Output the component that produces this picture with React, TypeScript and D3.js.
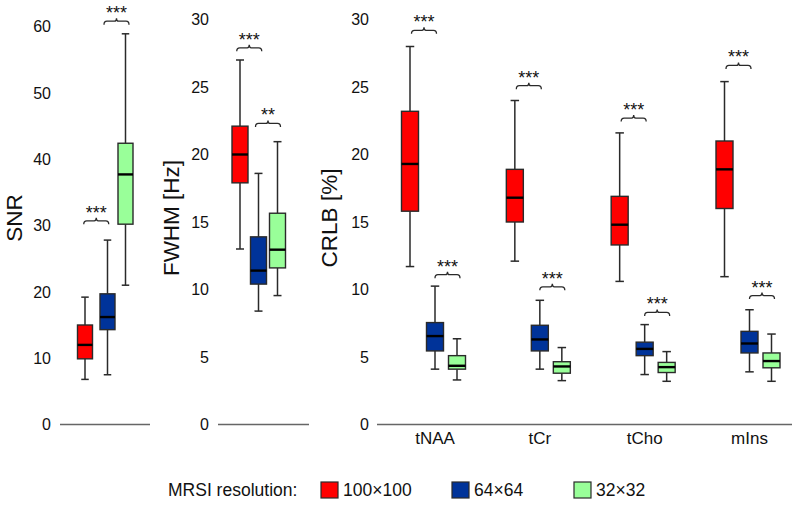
import React from 'react';
import * as d3 from 'd3';

const seriesNames = ['100×100', '64×64', '32×32'];
const seriesColors = ['#ff0000', '#003399', '#99ff99'];

// [low whisker, Q1, median, Q3, high whisker] per series
const snrStats = [
  [6.8, 9.9, 12.0, 15.0, 19.2],
  [7.5, 14.3, 16.2, 19.7, 27.8],
  [21.0, 30.2, 37.7, 42.4, 58.9],
];
const fwhmStats = [
  [13.0, 17.9, 20.0, 22.1, 27.0],
  [8.4, 10.4, 11.4, 13.9, 18.6],
  [9.55, 11.6, 12.95, 15.65, 20.95],
];
const crlbCategories = ['tNAA', 'tCr', 'tCho', 'mIns'];
const crlbNAA = [
  [11.7, 15.8, 19.3, 23.2, 28.0],
  [4.1, 5.45, 6.55, 7.55, 10.25],
  [3.3, 4.1, 4.35, 5.1, 6.35],
];
const crlbCr = [
  [12.1, 15.0, 16.8, 18.9, 24.0],
  [4.1, 5.45, 6.3, 7.35, 9.2],
  [3.25, 3.8, 4.3, 4.65, 5.7],
];
const crlbCho = [
  [10.6, 13.3, 14.8, 16.9, 21.6],
  [3.7, 5.1, 5.6, 6.1, 7.4],
  [3.2, 3.85, 4.25, 4.6, 5.4],
];
const crlbIns = [
  [10.95, 16.0, 18.9, 21.0, 25.4],
  [3.9, 5.3, 6.0, 6.9, 8.5],
  [3.2, 4.2, 4.7, 5.3, 6.7],
];
const crlbStats = [crlbNAA, crlbCr, crlbCho, crlbIns];

const snrTicks = [0, 10, 20, 30, 40, 50, 60];
const fwhmTicks = [0, 5, 10, 15, 20, 25, 30];
const crlbTicks = [0, 5, 10, 15, 20, 25, 30];

// significance brackets: [from series, to series, level, label]
const snrBrackets: [number, number, number, string][] = [
  [0, 1, 30.7, '***'],
  [1, 2, 60.8, '***'],
];
const fwhmBrackets: [number, number, number, string][] = [
  [0, 1, 27.9, '***'],
  [1, 2, 22.3, '**'],
];
// per category: [red-blue level, blue-green level]
const crlbBracketLevels = [
  [29.2, 11.1],
  [25.1, 10.2],
  [22.7, 8.3],
  [26.6, 9.55],
];
const crlbBracketLabels = ['***', '***'];

const FONT = "'Liberation Sans', Arial, Helvetica, sans-serif";
const STROKE = '#2a2a2a';

function Box({ cx, w, s, y, color }: { cx: number; w: number; s: number[]; y: d3.ScaleLinear<number, number>; color: string }) {
  const [lo, q1, med, q3, hi] = s;
  const cap = w / 2;
  return (
    <g>
      <line x1={cx} x2={cx} y1={y(hi)} y2={y(q3)} stroke={STROKE} strokeWidth={1.5} />
      <line x1={cx} x2={cx} y1={y(q1)} y2={y(lo)} stroke={STROKE} strokeWidth={1.5} />
      <line x1={cx - cap / 2} x2={cx + cap / 2} y1={y(hi)} y2={y(hi)} stroke={STROKE} strokeWidth={1.5} />
      <line x1={cx - cap / 2} x2={cx + cap / 2} y1={y(lo)} y2={y(lo)} stroke={STROKE} strokeWidth={1.5} />
      <rect x={cx - w / 2} y={y(q3)} width={w} height={y(q1) - y(q3)} fill={color} stroke={STROKE} strokeWidth={1.4} />
      <line x1={cx - w / 2} x2={cx + w / 2} y1={y(med)} y2={y(med)} stroke="#000" strokeWidth={2.4} />
    </g>
  );
}

function Bracket({ xa, xb, yy, label }: { xa: number; xb: number; yy: number; label: string }) {
  const mid = (xa + xb) / 2;
  const half = 12.5;
  const x0 = mid - half;
  const x1 = mid + half;
  const d = `M${x0},${yy + 3.5} Q${x0},${yy} ${x0 + 3},${yy} H${mid - 2} Q${mid},${yy} ${mid},${yy - 3} Q${mid},${yy} ${mid + 2},${yy} H${x1 - 3} Q${x1},${yy} ${x1},${yy + 3.5}`;
  return (
    <g>
      <path d={d} fill="none" stroke={STROKE} strokeWidth={1.3} />
      <text x={mid} y={yy - 2} textAnchor="middle" fontSize={18} fontFamily={FONT} fill="#111">
        {label}
      </text>
    </g>
  );
}

function YAxis({ y, ticks, labelX, x0, x1, title, titleX }: { y: d3.ScaleLinear<number, number>; ticks: number[]; labelX: number; x0: number; x1: number; title: string; titleX: number }) {
  const cy = 218;
  return (
    <g>
      {ticks.map((t) => (
        <text key={t} x={labelX} y={y(t)} dy="0.36em" textAnchor="end" fontSize={16} fontFamily={FONT} fill="#111">
          {t}
        </text>
      ))}
      <line x1={x0} x2={x1} y1={y(0)} y2={y(0)} stroke="#666" strokeWidth={1.3} />
      <text transform={`translate(${titleX},${cy}) rotate(-90)`} textAnchor="middle" fontSize={22.5} fontFamily={FONT} fill="#111">
        {title}
      </text>
    </g>
  );
}

export default function App() {
  const yTop30 = 19.5;
  const yZero = 424.5;
  const ySnr = d3.scaleLinear().domain([0, 60]).range([yZero, 26.5]);
  const yFwhm = d3.scaleLinear().domain([0, 30]).range([yZero, yTop30]);
  const yCrlb = d3.scaleLinear().domain([0, 30]).range([yZero, yTop30]);

  const xSnr = d3.scaleOrdinal<number, number>().domain([0, 1, 2]).range([85, 107.5, 125.5]);
  const xFwhm = d3.scaleOrdinal<number, number>().domain([0, 1, 2]).range([240, 258.5, 277.5]);
  const xCat = d3.scalePoint<string>().domain(crlbCategories).range([435, 749.5]);
  const seriesOffset = d3.scaleOrdinal<number, number>().domain([0, 1, 2]).range([-25, 0, 22]);

  const legendX = [321, 452, 574];

  return (
    <svg width={800} height={507} style={{ position: 'absolute', left: 0, top: 0, background: '#fff' }}>
      <rect width={800} height={507} fill="#fff" />
      {/* SNR panel */}
      <YAxis y={ySnr} ticks={snrTicks} labelX={51} x0={60} x1={150} title="SNR" titleX={22} />
      {snrStats.map((s, i) => (
        <Box key={i} cx={xSnr(i)} w={15} s={s} y={ySnr} color={seriesColors[i]} />
      ))}
      {snrBrackets.map(([a, b, lv, lab], i) => (
        <Bracket key={i} xa={xSnr(a)} xb={xSnr(b)} yy={ySnr(lv)} label={lab} />
      ))}

      {/* FWHM panel */}
      <YAxis y={yFwhm} ticks={fwhmTicks} labelX={209} x0={218} x1={309} title="FWHM [Hz]" titleX={179} />
      {fwhmStats.map((s, i) => (
        <Box key={i} cx={xFwhm(i)} w={16} s={s} y={yFwhm} color={seriesColors[i]} />
      ))}
      {fwhmBrackets.map(([a, b, lv, lab], i) => (
        <Bracket key={i} xa={xFwhm(a)} xb={xFwhm(b)} yy={yFwhm(lv)} label={lab} />
      ))}

      {/* CRLB panel */}
      <YAxis y={yCrlb} ticks={crlbTicks} labelX={369} x0={377} x1={792} title="CRLB [%]" titleX={337} />
      {crlbCategories.map((c, ci) => (
        <g key={c}>
          {crlbStats[ci].map((s, i) => (
            <Box key={i} cx={(xCat(c) as number) + seriesOffset(i)} w={17} s={s} y={yCrlb} color={seriesColors[i]} />
          ))}
          {crlbBracketLevels[ci].map((lv, bi) => (
            <Bracket
              key={bi}
              xa={(xCat(c) as number) + seriesOffset(bi)}
              xb={(xCat(c) as number) + seriesOffset(bi + 1) + 3}
              yy={yCrlb(lv)}
              label={crlbBracketLabels[bi]}
            />
          ))}
          <text x={xCat(c)} y={444} textAnchor="middle" fontSize={17} fontFamily={FONT} fill="#111">
            {c}
          </text>
        </g>
      ))}

      {/* Legend */}
      <text x={168} y={496} fontSize={17.5} fontFamily={FONT} fill="#111">
        MRSI resolution:
      </text>
      {seriesNames.map((n, i) => (
        <g key={n}>
          <rect x={legendX[i]} y={482} width={17} height={16} fill={seriesColors[i]} stroke={STROKE} strokeWidth={1.2} />
          <text x={legendX[i] + 22} y={496} fontSize={17.5} fontFamily={FONT} fill="#111">
            {n}
          </text>
        </g>
      ))}
    </svg>
  );
}
